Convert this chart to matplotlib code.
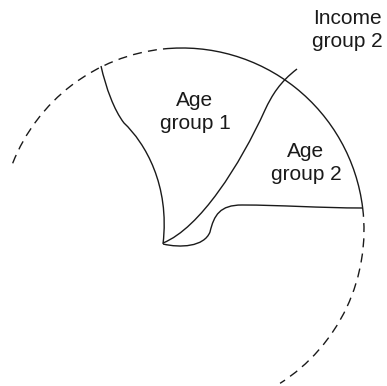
import matplotlib.pyplot as plt
from matplotlib.patches import Arc, PathPatch
from matplotlib.path import Path

plt.rcParams['font.family'] = ['Liberation Sans', 'DejaVu Sans']

# circle (pixel coords, y downwards)
circle_center = (182, 230)
circle_radius = 182
solid_span = (264, 353)
dashed_spans = [(201.5, 264), (353, 417.4)]

# boundary curves as cubic Bezier control points
age1_left = [(101, 66), (106, 88), (114, 110), (124, 123),
             (145, 143), (170, 185), (163, 244)]
income2_line = [(163, 243), (200, 228), (240, 165), (265, 110),
                (272, 95), (280, 82), (297, 69)]
age2_bottom = [(163, 244), (180, 248), (204, 247), (210, 232),
               (214, 215), (220, 205), (242, 205),
               (280, 205), (320, 208), (363, 208)]

labels = ['Age\ngroup 1', 'Age\ngroup 2', 'Income\ngroup 2']
label_pos = [(195, 112), (306, 163), (347, 30)]

ink = '#1a1a1a'

fig = plt.figure(figsize=(3.87, 3.86), dpi=100)
ax = fig.add_axes([0, 0, 1, 1])
ax.set_xlim(0, 387)
ax.set_ylim(386, 0)
ax.set_aspect('equal')
ax.axis('off')

d = 2 * circle_radius
ax.add_patch(Arc(circle_center, d, d, theta1=solid_span[0], theta2=solid_span[1],
                 color=ink, lw=1.0))
for t1, t2 in dashed_spans:
    ax.add_patch(Arc(circle_center, d, d, theta1=t1, theta2=t2, color=ink,
                     lw=1.0, linestyle=(0, (6.5, 4.5))))


def bezier(pts):
    codes = [Path.MOVETO] + [Path.CURVE4] * (len(pts) - 1)
    return PathPatch(Path(pts, codes), facecolor='none', edgecolor=ink, lw=1.0)


for curve in (age1_left, income2_line, age2_bottom):
    ax.add_patch(bezier(curve))

for text, (x, y) in zip(labels, label_pos):
    ax.text(x, y, text, ha='center', va='center', fontsize=15,
            color=ink, linespacing=1.3)

fig.savefig('out.png', dpi=100)
